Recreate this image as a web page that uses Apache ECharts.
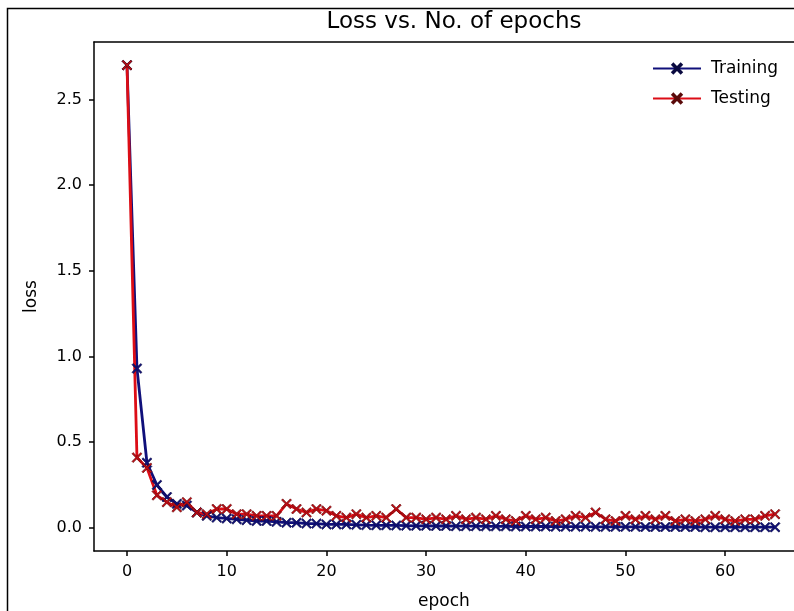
<!DOCTYPE html>
<html>
<head>
<meta charset="utf-8">
<script src="https://cdn.jsdelivr.net/npm/echarts@6/dist/echarts.min.js"></script>
<style>html,body{margin:0;padding:0;background:#fff;}#c{width:794px;height:611px;}</style>
</head>
<body>
<div id="c"></div>
<script>
const epochs = Array.from({length: 66}, (_, i) => i);
const trainingLoss = [2.70,0.93,0.38,0.25,0.18,0.14,0.13,0.09,0.07,0.06,
  0.055,0.05,0.045,0.04,0.04,0.035,0.03,0.03,0.025,0.025,
  0.02,0.02,0.02,0.018,0.016,0.015,0.015,0.014,0.013,0.012,
  0.012,0.011,0.011,0.010,0.010,0.010,0.009,0.009,0.009,0.008,
  0.008,0.008,0.008,0.007,0.007,0.007,0.007,0.006,0.006,0.006,
  0.006,0.006,0.005,0.005,0.005,0.005,0.005,0.005,0.004,0.004,
  0.004,0.004,0.004,0.004,0.004,0.004];
const testingLoss = [2.70,0.41,0.35,0.19,0.15,0.12,0.15,0.09,0.08,0.11,
  0.11,0.08,0.08,0.07,0.07,0.07,0.14,0.11,0.09,0.11,
  0.10,0.07,0.06,0.08,0.06,0.07,0.06,0.11,0.06,0.06,
  0.05,0.06,0.05,0.07,0.05,0.06,0.05,0.07,0.05,0.04,
  0.07,0.05,0.06,0.04,0.05,0.07,0.06,0.09,0.05,0.04,
  0.07,0.05,0.07,0.05,0.07,0.04,0.05,0.04,0.05,0.07,
  0.05,0.04,0.05,0.05,0.07,0.08];
const xTicks = [0,10,20,30,40,50,60];
const yTicks = [0,0.5,1.0,1.5,2.0,2.5];
const seriesNames = ['Training','Testing'];

const xSym = 'path://M0,1.2L1.2,0L5,3.8L8.8,0L10,1.2L6.2,5L10,8.8L8.8,10L5,6.2L1.2,10L0,8.8L3.8,5Z';
const font = 'DejaVu Sans';

const chart = echarts.init(document.getElementById('c'));
chart.setOption({
  animation: false,
  backgroundColor: '#fff',
  textStyle: {fontFamily: font},
  title: {
    text: 'Loss vs. No. of epochs', left: 449, top: 6, textAlign: 'center',
    textStyle: {fontFamily: font, fontSize: 23, fontWeight: 'normal', color: '#000'}
  },
  graphic: [{
    type: 'rect', shape: {x: 7.5, y: 8.5, width: 820, height: 700},
    style: {fill: 'none', stroke: '#000', lineWidth: 1.5}, silent: true, z: -1
  }],
  legend: {
    data: seriesNames, orient: 'vertical', left: 647, top: 55,
    itemWidth: 48, itemHeight: 12, itemGap: 13,
    textStyle: {fontFamily: font, fontSize: 17, color: '#000', padding: [0,0,0,5]}
  },
  grid: {left: 94, right: 0, top: 42, bottom: 60, show: false, outerBoundsMode: 'none', containLabel: false},
  xAxis: [{
    type: 'value', min: -3.31, max: 66.9,
    name: 'epoch', nameLocation: 'middle', nameGap: 42,
    nameTextStyle: {fontFamily: font, fontSize: 17, color: '#000'},
    splitLine: {show: false},
    axisLine: {show: true, onZero: false, lineStyle: {color: '#000', width: 1.5}},
    axisTick: {show: true, length: 5, lineStyle: {color: '#000', width: 1.5}, customValues: xTicks},
    axisLabel: {color: '#000', fontSize: 16, fontFamily: font, margin: 13, customValues: xTicks}
  }, {
    type: 'value', position: 'top', min: -3.31, max: 66.9,
    splitLine: {show: false}, axisTick: {show: false}, axisLabel: {show: false},
    axisLine: {show: true, onZero: false, lineStyle: {color: '#000', width: 1.5}}
  }],
  yAxis: {
    type: 'value', min: -0.135, max: 2.835,
    name: 'loss', nameLocation: 'middle', nameGap: 54, nameRotate: 90,
    nameTextStyle: {fontFamily: font, fontSize: 17, color: '#000'},
    splitLine: {show: false},
    axisLine: {show: true, onZero: false, lineStyle: {color: '#000', width: 1.5}},
    axisTick: {show: true, length: 5, lineStyle: {color: '#000', width: 1.5}, customValues: yTicks},
    axisLabel: {color: '#000', fontSize: 16, fontFamily: font, margin: 12, customValues: yTicks,
      formatter: v => v.toFixed(1)}
  },
  series: [
    {
      name: seriesNames[0], type: 'line', data: epochs.map((e, i) => [e, trainingLoss[i]]),
      symbol: xSym, symbolSize: 10, showAllSymbol: true,
      lineStyle: {color: '#10107a', width: 2.8},
      itemStyle: {color: '#10107a', borderColor: '#0a0a40', borderWidth: 0.6}
    },
    {
      name: seriesNames[1], type: 'line', data: epochs.map((e, i) => [e, testingLoss[i]]),
      symbol: xSym, symbolSize: 10, showAllSymbol: true,
      lineStyle: {color: '#dc0d16', width: 2.8},
      itemStyle: {color: '#c00c14', borderColor: '#5a0a0a', borderWidth: 0.6}
    }
  ]
});
</script>
</body>
</html>
